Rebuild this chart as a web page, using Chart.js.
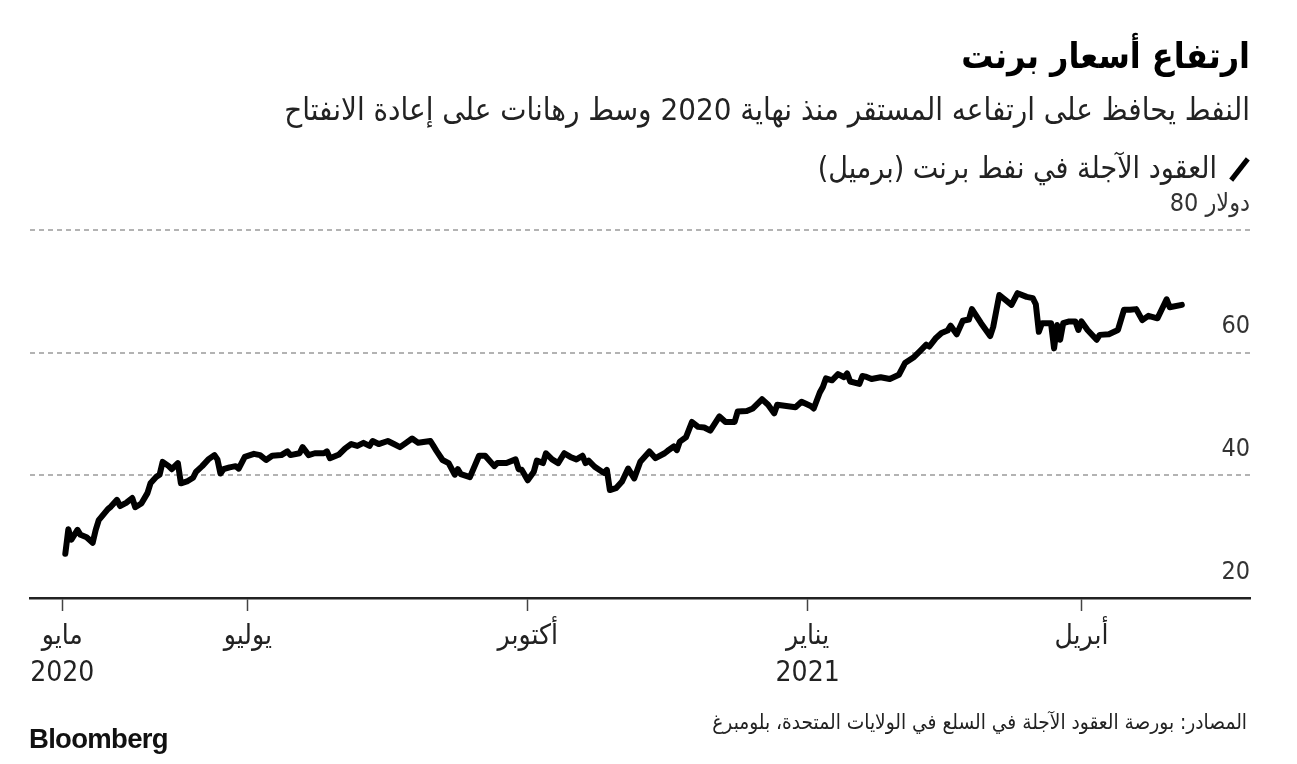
<!DOCTYPE html>
<html lang="ar" dir="ltr">
<head>
<meta charset="utf-8">
<script src="https://cdn.jsdelivr.net/npm/chart.js@4/dist/chart.umd.min.js"></script>
<style>
  html, body { margin: 0; padding: 0; background: #fff; }
  body { width: 1297px; height: 764px; position: relative; overflow: hidden; font-family: "DejaVu Sans Condensed", "DejaVu Sans", sans-serif; }
  #c { position: absolute; left: 0; top: 0; direction: ltr; }
  .rt { position: absolute; right: 47px; direction: rtl; white-space: nowrap; line-height: 1; color: #111; }
  #title { top: 38px; font-size: 35.5px; font-weight: bold; color: #000; }
  #subtitle { top: 94px; font-size: 31px; color: #222; }
  #legend { top: 153px; font-size: 30px; color: #222; }
  #legend .sw { display: inline-block; width: 5px; height: 27px; background: #000; transform: rotate(38deg); margin-left: 20px; margin-right: 8px; vertical-align: -5px; }
  #source { top: 712px; right: 50px; font-size: 20.7px; color: #222; }
  #logo { position: absolute; left: 29px; top: 723px; font-family: "Liberation Sans", Arial, sans-serif; font-weight: bold; font-size: 27.5px; letter-spacing: -0.7px; color: #111; }
</style>
</head>
<body>
<canvas id="c" width="1297" height="764" dir="ltr"></canvas>
<div id="title" class="rt">ارتفاع أسعار برنت</div>
<div id="subtitle" class="rt">النفط يحافظ على ارتفاعه المستقر منذ نهاية 2020 وسط رهانات على إعادة الانفتاح</div>
<div id="legend" class="rt"><span class="sw"></span>العقود الآجلة في نفط برنت (برميل)</div>
<div id="source" class="rt">المصادر: بورصة العقود الآجلة في السلع في الولايات المتحدة، بلومبرغ</div>
<div id="logo">Bloomberg</div>
<script>
// ---- data (Brent futures, USD per barrel) ----
const dates = [
  '2020-05-02','2020-05-03','2020-05-04','2020-05-06','2020-05-07','2020-05-09','2020-05-11','2020-05-12','2020-05-13','2020-05-16',
  '2020-05-17','2020-05-19','2020-05-20','2020-05-22','2020-05-24','2020-05-25','2020-05-27','2020-05-29','2020-05-30','2020-06-01',
  '2020-06-02','2020-06-03','2020-06-05','2020-06-06','2020-06-08','2020-06-09','2020-06-11','2020-06-13','2020-06-14','2020-06-16',
  '2020-06-18','2020-06-20','2020-06-21','2020-06-22','2020-06-23','2020-06-25','2020-06-27','2020-06-28','2020-06-30','2020-07-03',
  '2020-07-05','2020-07-07','2020-07-09','2020-07-12','2020-07-14','2020-07-15','2020-07-18','2020-07-19','2020-07-21','2020-07-23',
  '2020-07-26','2020-07-27','2020-07-28','2020-07-31','2020-08-02','2020-08-04','2020-08-06','2020-08-08','2020-08-10','2020-08-11',
  '2020-08-13','2020-08-16','2020-08-18','2020-08-20','2020-08-22','2020-08-24','2020-08-26','2020-08-30','2020-08-31','2020-09-01',
  '2020-09-03','2020-09-05','2020-09-07','2020-09-08','2020-09-09','2020-09-12','2020-09-15','2020-09-17','2020-09-20','2020-09-21',
  '2020-09-24','2020-09-27','2020-09-28','2020-09-29','2020-10-01','2020-10-03','2020-10-04','2020-10-06','2020-10-07','2020-10-09',
  '2020-10-11','2020-10-13','2020-10-15','2020-10-17','2020-10-19','2020-10-20','2020-10-21','2020-10-23','2020-10-26','2020-10-27',
  '2020-10-28','2020-10-30','2020-11-01','2020-11-03','2020-11-05','2020-11-07','2020-11-10','2020-11-12','2020-11-15','2020-11-16',
  '2020-11-18','2020-11-19','2020-11-20','2020-11-22','2020-11-24','2020-11-26','2020-11-28','2020-11-30','2020-12-03','2020-12-05',
  '2020-12-08','2020-12-09','2020-12-12','2020-12-14','2020-12-17','2020-12-19','2020-12-21','2020-12-22','2020-12-25','2020-12-28',
  '2020-12-30','2021-01-02','2021-01-03','2021-01-05','2021-01-06','2021-01-07','2021-01-09','2021-01-11','2021-01-13','2021-01-14',
  '2021-01-15','2021-01-18','2021-01-19','2021-01-20','2021-01-22','2021-01-25','2021-01-28','2021-01-31','2021-02-02','2021-02-05',
  '2021-02-07','2021-02-09','2021-02-10','2021-02-12','2021-02-14','2021-02-16','2021-02-17','2021-02-19','2021-02-21','2021-02-23',
  '2021-02-24','2021-02-27','2021-03-02','2021-03-03','2021-03-05','2021-03-09','2021-03-11','2021-03-14','2021-03-16','2021-03-17',
  '2021-03-18','2021-03-19','2021-03-22','2021-03-23','2021-03-24','2021-03-25','2021-03-26','2021-03-28','2021-03-30','2021-03-31',
  '2021-04-01','2021-04-03','2021-04-06','2021-04-07','2021-04-10','2021-04-13','2021-04-15','2021-04-17','2021-04-19','2021-04-21',
  '2021-04-23','2021-04-26','2021-04-29','2021-04-30','2021-05-04'
];
const brent = [
  27.2,31.2,29.5,31.1,30.3,29.9,29.0,31.1,32.7,34.5,
  34.9,36.0,35.0,35.5,36.3,34.8,35.4,37.1,38.7,39.8,
  40.1,42.2,41.5,41.0,42.0,38.7,39.0,39.6,40.6,41.5,
  42.6,43.3,42.6,40.3,41.0,41.3,41.5,41.1,43.0,43.5,
  43.3,42.5,43.2,43.3,43.9,43.3,43.6,44.6,43.3,43.6,
  43.6,43.9,42.8,43.4,44.4,45.1,44.8,45.3,44.8,45.6,
  45.1,45.6,45.1,44.6,45.3,46.0,45.3,45.6,44.8,44.0,
  42.5,42.0,40.1,41.0,40.2,39.7,43.2,43.2,41.5,42.0,
  42.0,42.6,41.0,40.9,39.2,40.6,42.4,42.0,43.6,42.6,
  42.0,43.6,43.0,42.6,43.2,42.0,42.4,41.4,40.4,40.9,
  37.6,37.9,39.0,41.1,39.5,42.2,43.9,42.8,43.6,44.0,
  44.7,44.1,45.5,46.2,48.7,47.9,47.8,47.3,49.6,48.7,
  48.7,50.4,50.5,50.9,52.4,51.5,50.1,51.5,51.3,51.1,
  52.0,51.3,50.9,53.5,54.4,55.8,55.5,56.5,56.0,56.6,
  55.3,54.9,56.2,56.1,55.7,56.0,55.7,56.4,58.3,59.3,
  60.3,61.3,61.0,62.3,63.2,63.6,64.4,63.0,65.2,65.4,
  67.1,64.8,62.7,64.2,69.4,67.8,69.7,69.1,68.9,67.9,
  63.4,64.8,64.8,60.7,64.5,62.1,64.8,65.1,65.1,63.7,
  65.1,63.7,62.1,62.9,63.0,63.7,67.0,67.0,67.1,65.3,
  66.0,65.6,68.7,67.4,67.8
];
const tickDates  = ['2020-05-01','2020-07-01','2020-10-01','2021-01-01','2021-04-01'];
const tickMonths = ['مايو','يوليو','أكتوبر','يناير','أبريل'];
const tickYears  = ['2020','','','2021',''];
const yTicks = [20, 40, 60, 80];
const yUnit = 'دولار';

// ---- helpers ----
const origin = Date.UTC(2020, 4, 1);
function dayOf(s) {
  const p = s.split('-').map(Number);
  return Math.round((Date.UTC(p[0], p[1] - 1, p[2]) - origin) / 864e5);
}
const points = dates.map((s, i) => ({ x: dayOf(s), y: brent[i] }));
const tickVals = tickDates.map(dayOf);
const fontFam = "'DejaVu Sans Condensed', 'DejaVu Sans', sans-serif";
const topTick = yTicks[yTicks.length - 1];

// Draws the top y label as "<number> <unit>" (number on the left, unit on the right),
// placed from the y scale's own pixel for the top tick.
const unitLabel = {
  id: 'unitLabel',
  afterDraw(chart) {
    const s = chart.scales.y, t = s.options.ticks, ctx = chart.ctx;
    const py = s.getPixelForValue(topTick) + t.labelOffset;
    const right = s.left - t.padding;
    ctx.save();
    ctx.font = t.font.size + 'px ' + fontFam;
    ctx.fillStyle = t.color;
    ctx.textBaseline = 'middle';
    ctx.textAlign = 'right';
    ctx.fillText(yUnit, right, py);
    const w = ctx.measureText(yUnit).width + ctx.measureText(' ').width;
    ctx.fillText(String(topTick), right - w, py);
    ctx.restore();
  }
};

new Chart(document.getElementById('c'), {
  type: 'line',
  data: {
    datasets: [{
      data: points,
      borderColor: '#000',
      borderWidth: 6,
      pointRadius: 0,
      tension: 0,
      borderJoinStyle: 'round',
      borderCapStyle: 'round'
    }]
  },
  plugins: [unitLabel],
  options: {
    responsive: false,
    animation: false,
    events: [],
    layout: { padding: { left: 30, right: 47, top: 230, bottom: 56 } },
    plugins: { legend: { display: false }, tooltip: { enabled: false } },
    scales: {
      x: {
        type: 'linear',
        min: -10.6,
        max: 390.4,
        afterBuildTicks: s => { s.ticks = tickVals.map(v => ({ value: v })); },
        afterFit: s => { s.height = 110; },
        grid: { drawOnChartArea: false, drawTicks: true, tickLength: 13, tickColor: '#444', tickWidth: 1.5 },
        border: { display: true, color: '#222', width: 2.5 },
        ticks: {
          autoSkip: false, maxRotation: 0, padding: 8,
          color: '#222',
          font: { family: fontFam, size: 28, lineHeight: 1.3 },
          callback: (v, i) => tickYears[i] ? [tickMonths[i], tickYears[i]] : tickMonths[i]
        }
      },
      y: {
        position: 'right',
        min: 20,
        max: 80,
        afterBuildTicks: s => { s.ticks = yTicks.map(v => ({ value: v })); },
        afterFit: s => { s.width = 0; },
        grid: {
          drawTicks: false,
          lineWidth: 2,
          color: c => (c.tick && c.tick.value === 20) ? 'rgba(0,0,0,0)' : '#b3b3b3'
        },
        border: { display: false, dash: [5, 4] },
        ticks: {
          mirror: true, padding: 0, labelOffset: -26,
          color: '#333',
          font: { family: fontFam, size: 25 },
          callback: v => v === topTick ? '' : String(v)
        }
      }
    }
  }
});
</script>
</body>
</html>
